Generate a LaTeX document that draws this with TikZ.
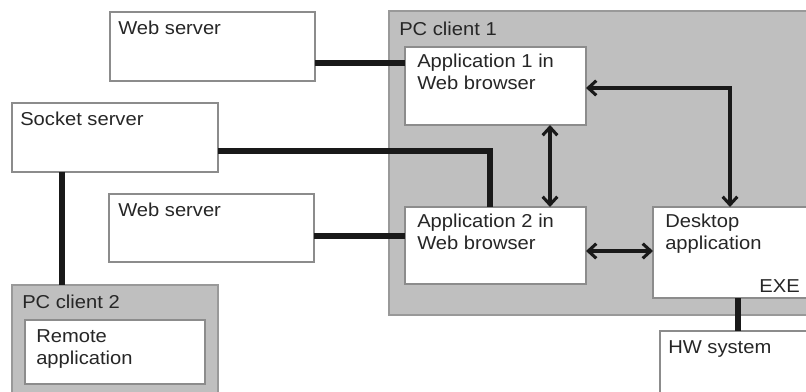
\documentclass[tikz,border=0pt]{standalone}
\usepackage{fontspec}
\setmainfont[FakeStretch=1.08]{Liberation Sans}
\usetikzlibrary{arrows.meta,calc}
\begin{document}
\begin{tikzpicture}[x=0.75pt,y=-0.75pt,
 sz/.style 2 args={minimum width=#1*0.75pt, minimum height=#2*0.75pt},
 box/.style={draw=black!45, fill=white, line width=0.8pt, anchor=north west, inner sep=0pt, outer sep=0pt},
 grp/.style={draw=black!40, fill=black!25, line width=0.8pt, anchor=north west, inner sep=0pt, outer sep=0pt},
 txt/.style={anchor=base west, inner sep=0pt, font=\fontsize{14}{16.5}\selectfont, align=left, text=black!85},
 wire/.style={line width=4.2pt, black!90},
 dbl/.style={line width=2.3pt, black!90, {Straight Barb[length=6pt,width=11pt]}-{Straight Barb[length=6pt,width=11pt]}}]
\useasboundingbox (0,0) rectangle (806,392);
\clip (0,0) rectangle (806,392);
% groups
\node[grp, sz={430}{304}] (pc1) at (389,11) {};
\node[grp, sz={206}{130}] (pc2) at (12,285) {};
% boxes
\node[box, sz={205}{69}] (ws1) at (110,12) {};
\node[box, sz={206}{69}] (ss) at (12,103) {};
\node[box, sz={205}{68}] (ws2) at (109,194) {};
\node[box, sz={180}{64}] (ra) at (25,320) {};
\node[box, sz={181}{78}] (app1) at (405,47) {};
\node[box, sz={181}{77}] (app2) at (405,207) {};
\node[box, sz={170}{91}] (desk) at (653,207) {};
\node[box, sz={170}{80}] (hw) at (660,331) {};
% texts (multi-line nodes: base = last line)
\node[txt] (tpc1) at (399,36) {PC client 1};
\node[txt] (tpc2) at (22,308) {PC client 2};
\node[txt] (tws1) at (118,35) {Web server};
\node[txt] (tss) at (20,126) {Socket server};
\node[txt] (tws2) at (118,216) {Web server};
\node[txt] (tra) at (36,364) {Remote\\application};
\node[txt] (tapp1) at (417,90) {Application 1 in\\Web browser};
\node[txt] (tapp2) at (417,249) {Application 2 in\\Web browser};
\node[txt] (tdesk) at (665,249) {Desktop\\application};
\node[txt, anchor=base east] (texe) at (800,292) {EXE};
\node[txt] (thw) at (668,353) {HW system};
% wires
\draw[wire] ($(ws1.north east)+(0,51)$) coordinate (c1) -- (c1 -| app1.west);
\draw[wire] ($(ss.north east)+(0,48)$) -| ($(app2.north west)+(85,0)$);
\draw[wire] ($(ss.south west)+(50,0)$) coordinate (c4) -- (c4 |- pc2.north);
\draw[wire] ($(ws2.north east)+(0,42)$) coordinate (c2) -- (c2 -| app2.west);
\draw[wire] ($(desk.south west)+(85,0)$) coordinate (c5) -- (c5 |- hw.north);
% arrows
\draw[dbl] ($(app1.south west)+(145,0)$) coordinate (c6) -- (c6 |- app2.north);
\draw[dbl] ($(app1.north east)+(0,41)$) -| ($(desk.north west)+(77,0)$);
\draw[dbl] ($(app2.north east)+(0,44)$) coordinate (c3) -- (c3 -| desk.west);
\end{tikzpicture}
\end{document}
